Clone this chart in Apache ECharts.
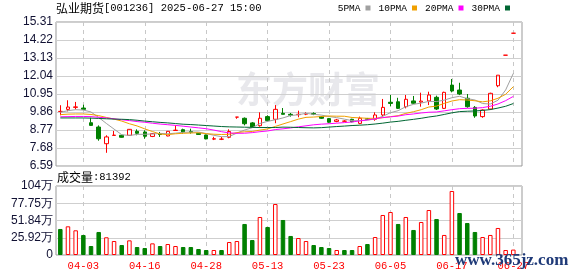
<!DOCTYPE html>
<html>
<head>
<meta charset="utf-8">
<script src="https://cdn.jsdelivr.net/npm/echarts@6/dist/echarts.min.js"></script>
<style>
  html, body { margin: 0; padding: 0; background: #fff; }
  #main { width: 578px; height: 276px; }
</style>
</head>
<body>
<div id="main"></div>
<script>
  // 弘业期货 001236 日K，2025-03-31 ~ 2025-06-27
  const dates = ['03-31','04-01','04-02','04-03','04-07','04-08','04-09','04-10','04-11','04-14',
    '04-15','04-16','04-17','04-18','04-21','04-22','04-23','04-24','04-25','04-28',
    '04-29','04-30','05-06','05-07','05-08','05-09','05-12','05-13','05-14','05-15',
    '05-16','05-19','05-20','05-21','05-22','05-23','05-26','05-27','05-28','05-29',
    '05-30','06-03','06-04','06-05','06-06','06-09','06-10','06-11','06-12','06-13',
    '06-16','06-17','06-18','06-19','06-20','06-23','06-24','06-25','06-26','06-27']
  const opens = [9.89,10.02,10.14,10.10,9.21,8.95,7.94,8.44,8.45,8.45,
    8.69,8.65,8.38,8.53,8.41,8.74,8.79,8.68,8.57,8.47,
    8.22,8.21,8.33,9.55,9.48,9.20,9.03,9.58,9.42,9.78,
    9.72,9.70,9.73,9.77,9.58,9.46,9.29,9.30,9.42,9.17,
    9.45,9.42,9.68,10.45,10.48,10.18,10.53,10.46,10.53,10.75,
    10.08,11.49,11.19,10.69,10.14,9.58,10.04,11.45,13.30,14.63]
  const closes = [9.90,10.16,10.17,10.02,9.05,8.24,8.35,8.46,8.33,8.81,
    8.57,8.39,8.55,8.50,8.69,8.76,8.65,8.63,8.50,8.23,
    8.24,8.22,8.68,9.55,9.15,8.95,9.48,9.34,10.02,9.72,
    9.67,9.72,9.76,9.73,9.48,9.24,9.38,9.31,9.27,9.48,
    9.42,9.68,10.14,10.38,10.08,10.63,10.39,10.52,10.89,10.04,
    11.05,11.13,10.95,10.18,9.62,9.98,10.99,12.09,13.30,14.63]
  const lows = [9.66,9.90,10.02,10.00,9.03,8.12,7.39,8.44,8.31,8.43,
    8.45,8.24,8.34,8.35,8.39,8.73,8.55,8.55,8.48,8.21,
    8.16,8.16,8.27,9.45,9.05,8.91,8.97,9.30,9.18,9.71,
    9.58,9.54,9.67,9.67,9.44,9.20,9.24,9.27,9.24,9.12,
    9.38,9.33,9.58,10.20,10.04,10.08,10.34,10.18,10.28,9.98,
    10.04,11.05,10.89,10.12,9.51,9.51,9.98,11.36,13.30,14.63]
  const highs = [10.27,10.57,10.47,10.30,9.51,9.05,8.45,8.71,8.47,8.83,
    8.81,8.75,8.59,8.65,8.71,9.05,8.85,8.85,8.58,8.49,
    8.36,8.36,8.81,9.55,9.53,9.25,9.84,9.66,10.28,10.10,
    9.80,9.94,9.84,9.84,9.62,9.50,9.44,9.36,9.45,9.58,
    9.50,9.84,10.65,10.89,10.72,10.89,10.83,11.03,11.09,10.85,
    11.09,11.86,11.63,10.95,10.22,10.02,11.03,12.09,13.30,14.63]
  // 成交量(手)
  const volumes = [391000,431000,371000,300000,135000,346000,266000,210000,150000,220000,
    120000,105000,175000,135000,165000,135000,120000,120000,90000,75000,
    75000,75000,195000,210000,466000,225000,571000,421000,766000,526000,
    286000,255000,210000,150000,120000,105000,75000,75000,75000,135000,
    165000,270000,601000,646000,466000,571000,376000,496000,676000,541000,
    301000,962000,631000,481000,346000,270000,301000,406000,75000,81392]
  const prevClose = 9.95

  // 均线在图内开头的值（窗口不足，直接从图上读）
  const ma5Lead = [9.84,9.94,10.00,9.98]
  const ma10Lead = [9.70,9.73,9.74,9.74,9.71,9.64,9.53,9.43,9.31]
  const ma20Lead = [9.57,9.58,9.59,9.59,9.58,9.54,9.50,9.45,9.39,9.34,
    9.28,9.24,9.18,9.13,9.09,9.05,9.00,8.95,8.90]
  const ma30Lead = [9.50,9.50,9.50,9.50,9.49,9.47,9.45,9.43,9.42,9.40,
    9.36,9.31,9.27,9.23,9.20,9.16,9.12,9.10,9.07,9.04,
    9.01,8.98,8.96,8.95,8.94,8.93,8.92,8.92,8.92]

  const labelIdx = [3,11,19,27,35,43,51,59]
  const priceMin = 6.59, priceMax = 15.31, priceStep = 1.09
  const volMax = 1036700, volStep = 259175
  const volTickLabels = ['0','25.92万','51.84万','77.75万','104万']

  function calcMA(n, lead) {
    return closes.map((c, i) => {
      if (i < lead.length) return [i, lead[i]]
      let s = 0
      for (let k = i - n + 1; k <= i; k++) s += closes[k]
      return [i, +(s / n).toFixed(3)]
    })
  }

  const chart = echarts.init(document.getElementById('main'))

  const candleData = closes.map((c, i) => [i, opens[i], c, lows[i], highs[i]])
  const volData = volumes.map((v, i) => {
    const up = closes[i] >= (i ? closes[i - 1] : prevClose)
    return {
      value: [i, v],
      itemStyle: up ? { color: '#fff', borderColor: '#ff0000' } : { color: '#008000', borderColor: '#008000' }
    }
  })

  const maLine = (name, color, data) => ({
    name: name,
    type: 'line',
    xAxisIndex: 0,
    yAxisIndex: 0,
    data: data,
    showSymbol: false,
    symbol: 'none',
    silent: true,
    color: color,
    itemStyle: { color: color },
    lineStyle: { color: color, width: 1 }
  })

  const xBase = {
    type: 'value',
    min: -0.56,
    max: 60.13,
    axisLine: { show: false },
    axisTick: { show: false, customValues: labelIdx },
    splitLine: { show: true, lineStyle: { color: '#c8c8c8', type: [4, 4] } }
  }

  const yLabel = {
    color: '#111133',
    fontFamily: 'Liberation Sans',
    fontSize: 12,
    margin: 3
  }

  const richTitle = {
    cn: { fontFamily: 'Noto Sans CJK SC', fontSize: 12, fontWeight: 'normal', color: '#000' },
    en: { fontFamily: 'Liberation Mono', fontSize: 10.5, fontWeight: 'normal', color: '#000' }
  }

  const option = {
    animation: false,
    backgroundColor: '#fff',
    title: [
      {
        text: '{cn|弘业期货}{en|[001236] 2025-06-27 15:00}',
        left: 56, top: 2, padding: 0,
        textStyle: { fontWeight: 'normal', rich: richTitle }
      },
      {
        text: '{cn|成交量}{en|:' + volumes[volumes.length - 1] + '}',
        left: 57, top: 171, padding: 0,
        textStyle: { fontWeight: 'normal', rich: richTitle }
      }
    ],
    legend: {
      right: 68,
      top: 3,
      align: 'right',
      icon: 'rect',
      itemWidth: 5,
      itemHeight: 5,
      itemGap: 8,
      padding: 0,
      selectedMode: false,
      textStyle: { fontFamily: 'Liberation Mono', fontSize: 9.5, color: '#000' },
      data: ['5PMA', '10PMA', '20PMA', '30PMA']
    },
    grid: [
      { left: 56, right: 56, top: 22, height: 144, show: true, borderColor: '#999', borderWidth: 1 },
      { left: 56, right: 56, top: 186, height: 69, show: true, borderColor: '#999', borderWidth: 1 }
    ],
    xAxis: [
      Object.assign({}, xBase, { gridIndex: 0, axisLabel: { show: false } }),
      Object.assign({}, xBase, {
        gridIndex: 1,
        axisLabel: {
          show: true,
          customValues: labelIdx,
          formatter: v => dates[Math.round(v)],
          color: '#ff0000',
          fontFamily: 'Liberation Mono',
          fontSize: 10.5,
          margin: 6
        }
      })
    ],
    yAxis: [
      {
        type: 'value', gridIndex: 0,
        min: priceMin, max: priceMax, interval: priceStep,
        axisLine: { show: false }, axisTick: { show: false },
        axisLabel: Object.assign({}, yLabel, { formatter: v => v.toFixed(2) }),
        splitLine: { lineStyle: { color: '#cfcfcf' } }
      },
      {
        type: 'value', gridIndex: 1,
        min: 0, max: volMax, interval: volStep,
        axisLine: { show: false }, axisTick: { show: false },
        axisLabel: Object.assign({}, yLabel, { formatter: v => volTickLabels[Math.round(v / volStep)] }),
        splitLine: { lineStyle: { color: '#cfcfcf' } }
      }
    ],
    graphic: [
      {
        type: 'text', left: 236, top: 71, z: 0, silent: true,
        style: { text: '东方财富', fontSize: 36, fontWeight: 'bold', fontFamily: 'Noto Sans CJK SC', fill: '#e8e8ec' }
      },
      {
        type: 'text', left: 455, top: 252, z: 100, silent: true,
        style: { text: 'www.365jz.com', fontSize: 17, fontWeight: 'bold', fontFamily: 'Liberation Serif', fill: '#1f3a78' }
      }
    ],
    series: [
      {
        name: 'K',
        type: 'candlestick',
        xAxisIndex: 0,
        yAxisIndex: 0,
        data: candleData,
        encode: { x: 0, y: [1, 2, 3, 4] },
        barWidth: 4,
        silent: true,
        itemStyle: {
          color: 'transparent',
          color0: '#008000',
          borderColor: '#ff0000',
          borderColor0: '#008000',
          borderWidth: 1
        }
      },
      maLine('5PMA', '#a0a0a0', calcMA(5, ma5Lead)),
      maLine('10PMA', '#f0a000', calcMA(10, ma10Lead)),
      maLine('20PMA', '#ff00ff', calcMA(20, ma20Lead)),
      maLine('30PMA', '#006633', calcMA(30, ma30Lead)),
      {
        name: '成交量',
        type: 'bar',
        xAxisIndex: 1,
        yAxisIndex: 1,
        data: volData,
        barWidth: 4.5,
        silent: true,
        itemStyle: { borderWidth: 1 }
      }
    ]
  }

  chart.setOption(option)
</script>
</body>
</html>
